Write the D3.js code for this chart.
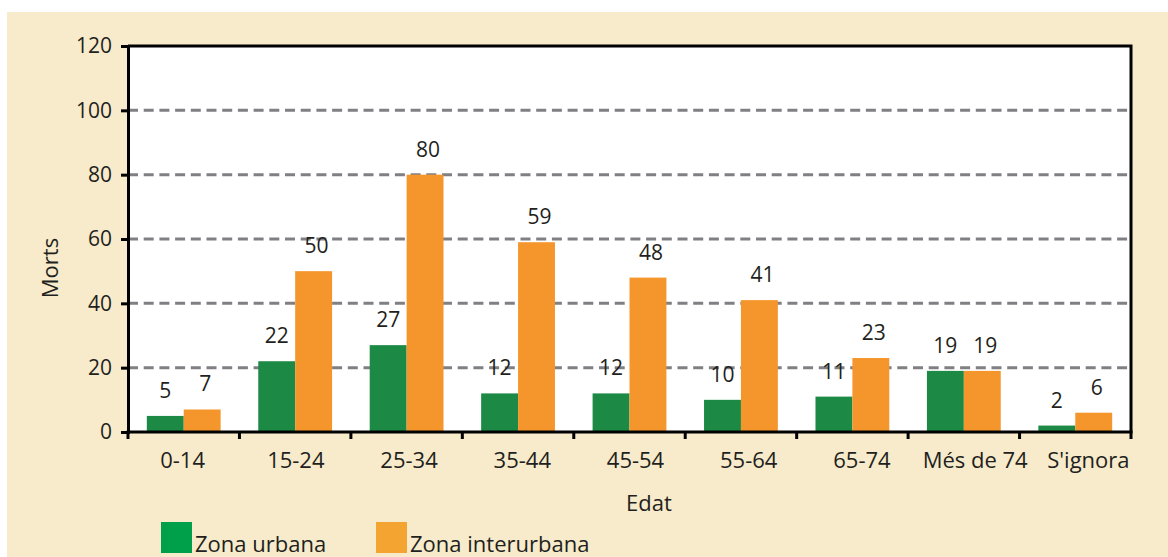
<!DOCTYPE html>
<html>
<head>
<meta charset="utf-8">
<script src="https://cdn.jsdelivr.net/npm/d3@7/dist/d3.min.js"></script>
<style>
  html, body { margin: 0; padding: 0; background: #ffffff; }
  svg { display: block; }
  text { font-family: "Open Sans", "Noto Sans", sans-serif; fill: #231f20; }
</style>
</head>
<body>
<svg id="chart" width="1168" height="557"></svg>
<script>
// Deaths by age group, urban vs interurban zone
const categories = ["0-14", "15-24", "25-34", "35-44", "45-54", "55-64", "65-74", "Més de 74", "S'ignora"];
const seriesNames = ["Zona urbana", "Zona interurbana"];
const urbana = [5, 22, 27, 12, 12, 10, 11, 19, 2];
const interurbana = [7, 50, 80, 59, 48, 41, 23, 19, 6];
const yTicks = [0, 20, 40, 60, 80, 100, 120];

const barColors = ["#1c8944", "#f5962d"];
const legendColors = ["#00a04a", "#f4a531"];

const svg = d3.select("#chart");
const W = 1168, H = 557;
const plot = { left: 128, top: 46, right: 1131, bottom: 432 };
const numSize = 21, textSize = 22;

// beige panel
svg.append("rect").attr("x", 7).attr("y", 12).attr("width", W - 7).attr("height", H - 12)
  .attr("fill", "#f7ebcb");
// white plot area
svg.append("rect").attr("x", plot.left).attr("y", plot.top)
  .attr("width", plot.right - plot.left).attr("height", plot.bottom - plot.top)
  .attr("fill", "#ffffff");

const x0 = d3.scaleBand().domain(categories).range([plot.left, plot.right]).padding(0);
const x1 = d3.scaleBand().domain(seriesNames).range([0, x0.bandwidth()])
  .paddingInner(0).paddingOuter(0.51);
const y = d3.scaleLinear().domain([0, 120]).range([plot.bottom, plot.top]);
// category labels sit slightly spread relative to the bands
const xLabel = d3.scaleBand().domain(categories).range([126, 1145]);

// dashed gridlines
svg.append("g").selectAll("line").data(yTicks.filter(t => t > 0 && t < 120)).join("line")
  .attr("x1", plot.left).attr("x2", plot.right)
  .attr("y1", d => y(d)).attr("y2", d => y(d))
  .attr("stroke", "#808084").attr("stroke-width", 3)
  .attr("stroke-dasharray", "10,5.7");

// bars
const rows = categories.map((c, i) => ({ cat: c, vals: [urbana[i], interurbana[i]] }));
const groups = svg.append("g").selectAll("g").data(rows).join("g")
  .attr("transform", d => `translate(${x0(d.cat)},0)`);
groups.selectAll("rect").data(d => d.vals.map((v, j) => ({ v, s: seriesNames[j], j }))).join("rect")
  .attr("x", d => x1(d.s)).attr("width", x1.bandwidth())
  .attr("y", d => y(d.v)).attr("height", d => y(0) - y(d.v))
  .attr("fill", d => barColors[d.j]);
// value labels
groups.selectAll("text").data(d => d.vals.map((v, j) => ({ v, s: seriesNames[j], j }))).join("text")
  .attr("x", d => x1(d.s) + x1.bandwidth() / 2 + (d.j === 1 ? 3 : 0))
  .attr("y", d => y(d.v) - 18)
  .attr("text-anchor", "middle").attr("font-size", numSize)
  .text(d => d.v);

// frame: top and right border
svg.append("path")
  .attr("d", `M${plot.left},${plot.top}H${plot.right}V${plot.bottom}`)
  .attr("fill", "none").attr("stroke", "#000").attr("stroke-width", 3);

// y axis
const yAxis = svg.append("g").attr("transform", `translate(${plot.left},0)`)
  .call(d3.axisLeft(y).tickValues(yTicks).tickSize(7).tickPadding(9).tickFormat(d3.format("d")));
yAxis.select(".domain").attr("stroke", "#000").attr("stroke-width", 3);
yAxis.selectAll(".tick line").attr("stroke", "#000").attr("stroke-width", 3);
yAxis.selectAll(".tick text").attr("font-size", numSize).attr("fill", "#231f20")
  .attr("font-family", "Open Sans, Noto Sans, sans-serif");

// x axis: tick marks at band boundaries
const xAxis = svg.append("g").attr("transform", `translate(0,${plot.bottom})`);
xAxis.append("line").attr("x1", plot.left - 1.5).attr("x2", plot.right + 1.5)
  .attr("y1", 0).attr("y2", 0).attr("stroke", "#000").attr("stroke-width", 3);
const boundaries = categories.map(c => x0(c)).concat([x0(categories[categories.length - 1]) + x0.bandwidth()]);
xAxis.selectAll("line.tk").data(boundaries).join("line").attr("class", "tk")
  .attr("x1", d => d).attr("x2", d => d).attr("y1", 0).attr("y2", 7)
  .attr("stroke", "#000").attr("stroke-width", 3);
svg.append("g").selectAll("text").data(categories).join("text")
  .attr("x", d => xLabel(d) + xLabel.bandwidth() / 2).attr("y", 468)
  .attr("text-anchor", "middle").attr("font-size", textSize).text(d => d);

// axis titles
svg.append("text").attr("x", 649).attr("y", 511).attr("text-anchor", "middle")
  .attr("font-size", textSize).text("Edat");
svg.append("text").attr("transform", "translate(58,268) rotate(-90)")
  .attr("text-anchor", "middle").attr("font-size", textSize).text("Morts");

// legend
const legendX = [161, 376];
const legend = svg.append("g").selectAll("g").data(seriesNames).join("g")
  .attr("transform", (d, i) => `translate(${legendX[i]},522)`);
legend.append("rect").attr("width", 31).attr("height", 31).attr("fill", (d, i) => legendColors[i]);
legend.append("text").attr("x", 34).attr("y", 30).attr("font-size", textSize).text(d => d);
</script>
</body>
</html>
